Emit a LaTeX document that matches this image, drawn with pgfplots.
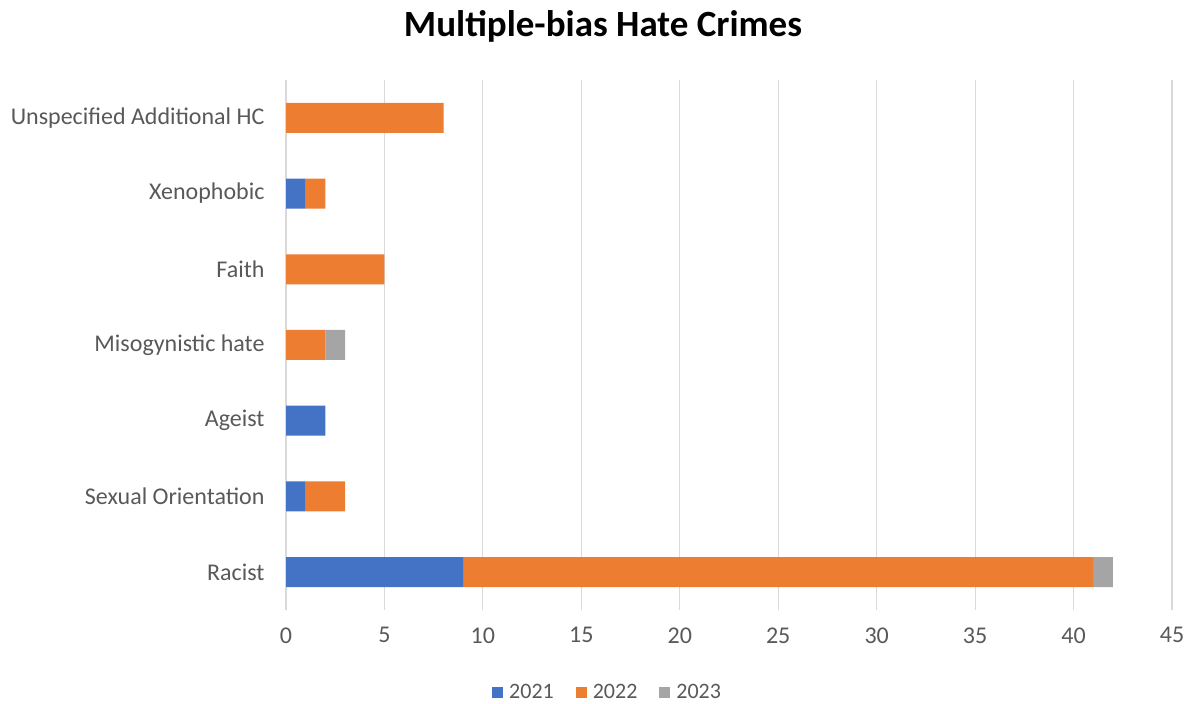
\documentclass[border=0pt]{standalone}
\usepackage{pgfplots}
\pgfplotsset{compat=1.18}
\usepackage{fontspec}
\setmainfont{Carlito}
\definecolor{c21}{HTML}{4472C4}
\definecolor{c22}{HTML}{ED7D31}
\definecolor{c23}{HTML}{A5A5A5}
\definecolor{txt}{HTML}{595959}
\definecolor{grd}{HTML}{D9D9D9}
\begin{document}
\begin{tikzpicture}
\path[use as bounding box] (0,0) rectangle (1192bp,704bp);
\node[font=\fontsize{37bp}{41bp}\selectfont\bfseries, text=black] at (603bp,678bp) {Multiple-bias Hate Crimes};
\begin{axis}[
  at={(286bp,94bp)}, anchor=south west,
  scale only axis, width=886bp, height=530bp,
  xbar stacked, bar width=30bp,
  xmin=0, xmax=45, xtick={0,5,...,45},
  ymin=-0.5, ymax=6.5, ytick={0,...,6},
  yticklabels={Racist,Sexual Orientation,Ageist,Misogynistic hate,Faith,Xenophobic,Unspecified Additional HC},
  xmajorgrids, grid style={grd, line width=1.2bp},
  axis line style={draw=none},
  major tick length=0pt,
  tick label style={font=\fontsize{24bp}{28bp}\selectfont, text=txt},
  /pgf/number format/assume math mode=true,
  xticklabel style={yshift=-14bp},
  yticklabel style={xshift=-18bp},
  legend columns=3,
  legend style={draw=none, at={(0.363,-0.155)}, anchor=center, font=\fontsize{22bp}{26bp}\selectfont, text=txt,
    /tikz/every odd column/.append style={column sep=4bp},
    /tikz/every even column/.append style={column sep=20bp}},
  legend image code/.code={\fill[#1] (0bp,-5.5bp) rectangle (11bp,5.5bp);},
]
\addplot[fill=c21, draw=none] coordinates {(9,0) (1,1) (2,2) (0,3) (0,4) (1,5) (0,6)};
\addplot[fill=c22, draw=none] coordinates {(32,0) (2,1) (0,2) (2,3) (5,4) (1,5) (8,6)};
\addplot[fill=c23, draw=none] coordinates {(1,0) (0,1) (0,2) (1,3) (0,4) (0,5) (0,6)};
\legend{2021,2022,2023}
\end{axis}
\end{tikzpicture}
\end{document}
